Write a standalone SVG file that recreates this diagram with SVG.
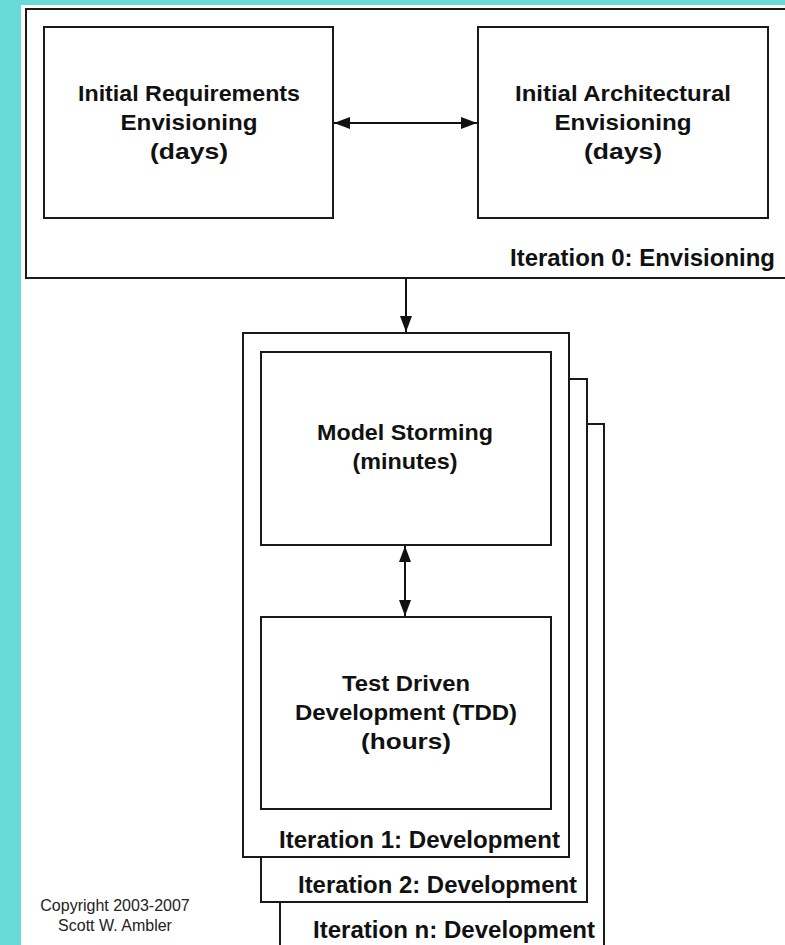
<svg xmlns="http://www.w3.org/2000/svg" width="785" height="945" viewBox="0 0 785 945">
<style>
.box{fill:#fff;stroke:#1a1a1a;stroke-width:2}
.t{font-family:"Liberation Sans",Arial,sans-serif;font-weight:bold;font-size:22px;fill:#111;text-anchor:middle}
.lbl{font-family:"Liberation Sans",Arial,sans-serif;font-weight:bold;font-size:23px;fill:#111;text-anchor:end}
.cp{font-family:"Liberation Sans",Arial,sans-serif;font-size:16px;fill:#222;text-anchor:middle}
.c{stroke:#111;stroke-width:2;fill:none}
</style>
<defs>
<marker id="ah" markerUnits="userSpaceOnUse" markerWidth="16" markerHeight="12" refX="16" refY="6" orient="auto-start-reverse" viewBox="0 0 16 12">
<path d="M0,0 L16,6 L0,12 Z" fill="#111"/>
</marker>
</defs>
<rect x="0" y="0" width="785" height="945" fill="#67d9d6"/>
<rect x="21" y="5" width="764" height="940" fill="#fff"/>

<g id="iteration0">
<rect class="box" x="26" y="9" width="770" height="269"/>
<text class="lbl" x="775" y="266" textLength="265" lengthAdjust="spacingAndGlyphs">Iteration 0: Envisioning</text>
</g>
<g id="req">
<rect class="box" x="44" y="27" width="289" height="191"/>
<text class="t" x="189" y="101" textLength="222" lengthAdjust="spacingAndGlyphs">Initial Requirements</text>
<text class="t" x="189" y="130" textLength="137" lengthAdjust="spacingAndGlyphs">Envisioning</text>
<text class="t" x="189" y="159" textLength="78" lengthAdjust="spacingAndGlyphs">(days)</text>
</g>
<g id="arch">
<rect class="box" x="478" y="27" width="290" height="191"/>
<text class="t" x="623" y="101" textLength="216" lengthAdjust="spacingAndGlyphs">Initial Architectural</text>
<text class="t" x="623" y="130" textLength="137" lengthAdjust="spacingAndGlyphs">Envisioning</text>
<text class="t" x="623" y="159" textLength="78" lengthAdjust="spacingAndGlyphs">(days)</text>
</g>

<g id="iterationN">
<rect class="box" x="280" y="424" width="324" height="540"/>
<text class="lbl" x="595" y="938" textLength="282" lengthAdjust="spacingAndGlyphs">Iteration n: Development</text>
</g>
<g id="iteration2">
<rect class="box" x="261" y="379" width="326" height="523"/>
<text class="lbl" x="577" y="893" textLength="279" lengthAdjust="spacingAndGlyphs">Iteration 2: Development</text>
</g>
<g id="iteration1">
<rect class="box" x="243" y="333" width="326" height="524"/>
<text class="lbl" x="560" y="848" textLength="281" lengthAdjust="spacingAndGlyphs">Iteration 1: Development</text>
</g>
<g id="modelstorming">
<rect class="box" x="261" y="352" width="290" height="193"/>
<text class="t" x="405" y="440" textLength="176" lengthAdjust="spacingAndGlyphs">Model Storming</text>
<text class="t" x="405" y="469" textLength="105" lengthAdjust="spacingAndGlyphs">(minutes)</text>
</g>
<g id="tdd">
<rect class="box" x="261" y="617" width="290" height="192"/>
<text class="t" x="406" y="691" textLength="128" lengthAdjust="spacingAndGlyphs">Test Driven</text>
<text class="t" x="406" y="720" textLength="222" lengthAdjust="spacingAndGlyphs">Development (TDD)</text>
<text class="t" x="406" y="749" textLength="90" lengthAdjust="spacingAndGlyphs">(hours)</text>
</g>

<g id="connectors">
<line class="c" x1="334" y1="123" x2="477" y2="123" marker-start="url(#ah)" marker-end="url(#ah)"/>
<line class="c" x1="406" y1="278" x2="406" y2="332" marker-end="url(#ah)"/>
<line class="c" x1="405" y1="546" x2="405" y2="616" marker-start="url(#ah)" marker-end="url(#ah)"/>
</g>

<g id="copyright">
<text class="cp" x="115" y="911">Copyright 2003-2007</text>
<text class="cp" x="115" y="931">Scott W. Ambler</text>
</g>
</svg>
